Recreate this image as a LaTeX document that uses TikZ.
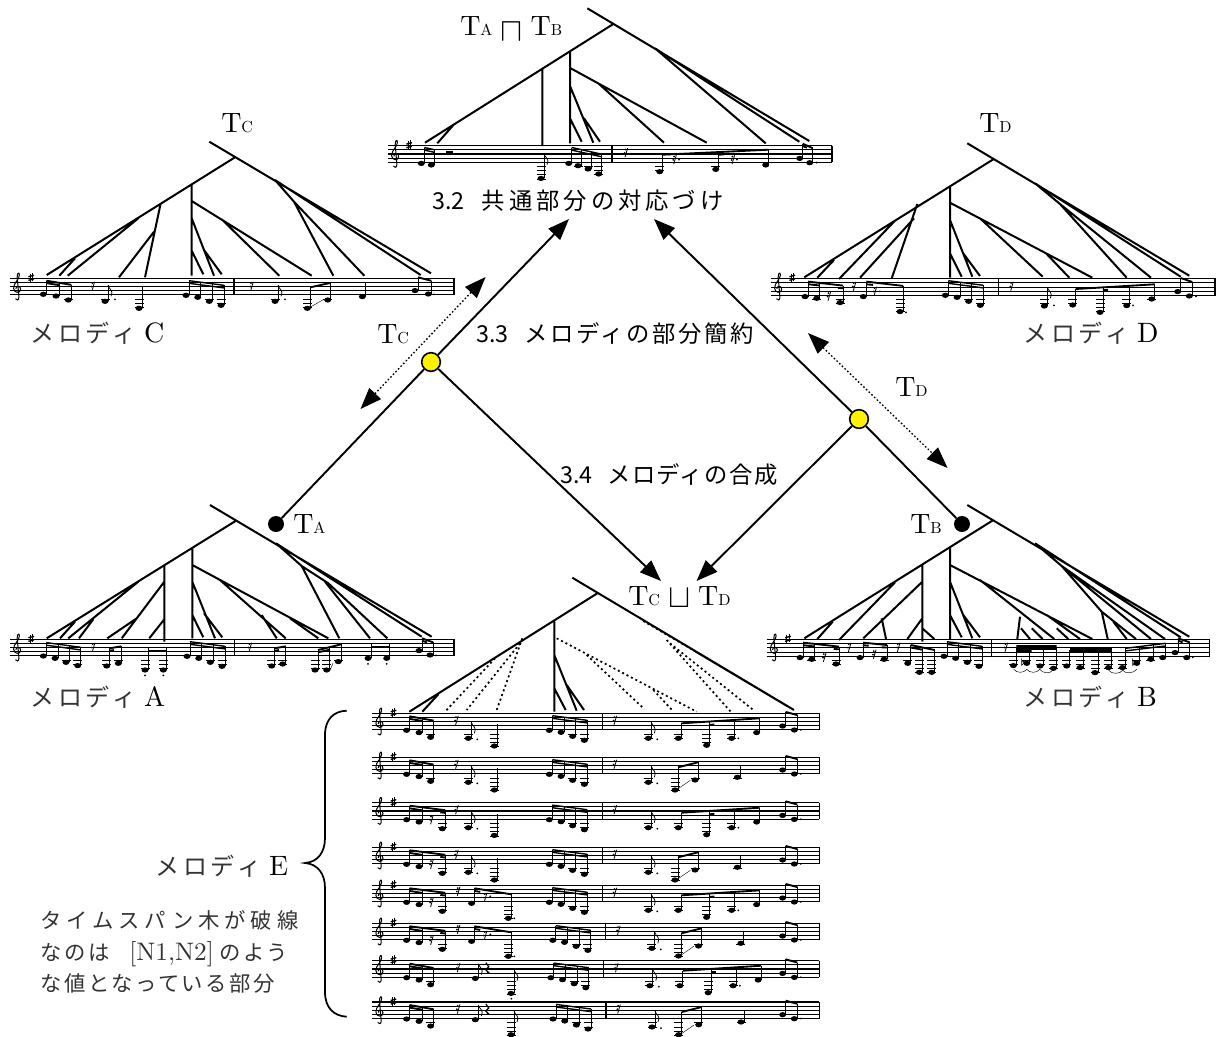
\documentclass[tikz,border=0pt]{standalone}
\usepackage{fontspec}
\usepackage{amssymb}
\usetikzlibrary{arrows.meta}
\newfontfamily\lmx[Ligatures=TeX]{lmroman10-regular.otf}
\newfontfamily\jpa[LetterSpace=23]{Noto Sans CJK JP}
\newfontfamily\jpb[LetterSpace=16]{Noto Sans CJK JP}
\newfontfamily\jpc[LetterSpace=17]{Noto Sans CJK JP}
\newfontfamily\jpd[LetterSpace=6]{Noto Sans CJK JP}
\newfontfamily\jpe[LetterSpace=12]{Noto Sans CJK JP}
\newfontfamily\jpg[LetterSpace=11]{Noto Sans CJK JP}
\newfontfamily\jpn{Noto Sans CJK JP}
\newcommand\tk[1]{{\lmx\fontsize{21}{21}\selectfont T\fontsize{12}{12}\selectfont #1}}
\newcommand\mel[1]{{\color{black!80}\jpb\fontsize{18}{18}\selectfont メロディ}\hspace{6pt}{\lmx\fontsize{21}{21}\selectfont #1}}
\newcommand\sect[3]{{\fontsize{17.5}{17.5}\selectfont\jpn #1\hspace{6pt}#2 #3}}
\tikzset{
 treeln/.style={line width=1.5pt},
 treedot/.style={line width=1.3pt,dash pattern=on 1.5pt off 2.2pt},
 stemln/.style={line width=.55pt},
 staffln/.style={line width=.85pt},
 ledgerln/.style={line width=.6pt},
 beamln/.style={line width=1.4pt},
 main/.style={line width=1.45pt,-{Triangle[length=16pt,width=12pt]}},
 plainl/.style={line width=1.45pt},
 spanarr/.style={line width=1pt,dash pattern=on 1.2pt off 1.6pt,{Triangle[length=16pt,width=12pt]}-{Triangle[length=16pt,width=12pt]}},
 yel/.style={circle,draw=black,line width=1.2pt,fill=yellow,minimum size=14pt,inner sep=0pt},
 blk/.style={circle,fill=black,minimum size=12pt,inner sep=0pt},
 lbl/.style={inner sep=0pt,anchor=west},
}
% music primitives (local px: y=0 top staff line)
\newcommand\mnote[3]{\fill (#1,#2) ellipse [x radius=3.5,y radius=2.6];\draw[stemln] (#1+3,#2) -- (#1+3,#3);%
 \ifdim#2pt>19.5pt \draw[ledgerln] (#1-4.5,20.75) -- (#1+4.5,20.75);\fi
 \ifdim#2pt>24pt \draw[ledgerln] (#1-4.5,24.9) -- (#1+4.5,24.9);\fi
 \ifdim#2pt>28pt \draw[ledgerln] (#1-4.5,29) -- (#1+4.5,29);\fi
 \ifdim#2pt>32pt \draw[ledgerln] (#1-4.5,33.2) -- (#1+4.5,33.2);\fi}
\newcommand\mbeam[4]{\draw[beamln] (#1,#2) -- (#3,#4);}
\newcommand\mbeamb[4]{\draw[line width=1.05pt] (#1,#2) -- (#3,#4);\draw[line width=1.05pt] (#1,#2+2.6) -- (#3,#4+2.6);}
\newcommand\mrest[2]{\draw[line width=.6pt] (#1+1.6,#2-4.5) -- (#1-1,#2+4.5);\fill (#1-.6,#2-3.2) circle [radius=1];\fill (#1-1.4,#2+.2) circle [radius=1];}
\newcommand\mrestq[2]{\draw[line width=.9pt] (#1-1.5,#2-6) -- (#1+1.5,#2-2) -- (#1-1.5,#2+1) -- (#1+1.5,#2+4) -- (#1-.5,#2+4);}
\newcommand\mflag[2]{\draw[line width=.55pt] (#1,#2) .. controls (#1+1,#2+4) and (#1+6,#2+5) .. (#1+3,#2+11);}
\newcommand\mdot[2]{\fill (#1,#2) circle [radius=1];}
\newcommand\mbar[1]{\draw[line width=.95pt] (#1,0) -- (#1,16.6);}
\newcommand\mslur[4]{\draw[line width=.35pt] (#1,#2) .. controls (#1+3,#2+4) and (#3-3,#4+4) .. (#3,#4);}
\newcommand\mflat[2]{\draw[line width=.4pt] (#1,#2-5) -- (#1,#2+2) .. controls (#1+4,#2-2) and (#1+2,#2-3) .. (#1,#2-1);}
\newcommand\mstaff[2]{%
 \foreach \i in {0,1,2,3,4}{\draw[staffln] (0,\i*#2) -- (#1,\i*#2);}
 \draw[line width=.95pt] (#1,0) -- (#1,#2*4);
 % clef
 \draw[line width=.75pt] (5.4,20.4) .. controls (6.4,22.6) and (9.2,22) .. (8.9,18.6) -- (7.2,-1) .. controls (7,-5) and (9.2,-7) .. (9.4,-3.4) .. controls (9.6,1) and (3.4,4.5) .. (3.6,10) .. controls (3.8,15) and (10.6,15.4) .. (10.7,10.8) .. controls (10.6,7) and (5.6,7.2) .. (5.9,10.6);
 % sharp
 \draw[line width=.45pt] (20,-4.6) -- (20,3.6) (22.4,-5.4) -- (22.4,2.8);
 \draw[line width=1pt] (18.4,-1.6) -- (24,-3) (18.4,2) -- (24,.6);}
\newcommand\mGroup[1]{\mnote{#1+177}{17}{2.4}\mnote{#1+188.7}{19}{3.8}\mnote{#1+200.3}{23}{5.6}\mnote{#1+212}{27}{7}\mbeamb{#1+180}{2.4}{#1+215}{7}}
\newcommand\mLast{\mnote{410.3}{12.7}{-1.4}\mnote{422}{16.7}{1.8}\mbeam{413.3}{-1.4}{425}{1.8}\mdot{428.5}{16.5}}
% melody E pieces
\newcommand\eHeadA{\mnote{34.3}{17}{3}\mnote{46.7}{19.3}{5.2}\mnote{58.3}{24}{7.3}\mbeam{37.3}{3}{61.3}{7.3}\mbeam{37.3}{5.6}{49.7}{7.6}}
\newcommand\eHeadB{\mnote{34.3}{17}{3}\mnote{46.7}{19.3}{5}\mrest{59.3}{17}\mnote{70}{26}{7.5}\mbeam{37.3}{3}{73}{7.5}\mbeam{37.3}{5.6}{49.7}{7.6}\mbeam{68}{9.6}{73}{10.2}}
\newcommand\ePartP{\mrest{84.3}{7}\mnote{96}{25}{9}\mflag{99}{9}\mdot{105}{26}\mnote{122}{32.7}{11}}
\newcommand\ePartQ{\mrest{86}{6}\mnote{99.3}{18}{3}\mbeam{102.3}{3}{139}{9}\mbeam{102.3}{5.6}{108}{6.6}\mrest{113}{12}\mdot{118}{11}\mnote{136}{33}{9}\mdot{142}{33}}
\newcommand\ePartR{\mrest{86}{7}\mnote{103}{17.7}{3}\mflag{106}{3}\mrestq{115}{8}\mnote{138.7}{32.7}{9}\mflag{141.7}{9}\mdot{139}{38}}
\newcommand\eTail[1]{\mbar{#1+230}\mrest{#1+242.7}{7}\mnote{#1+276}{25}{9}\mflag{#1+279}{9}\mdot{#1+285}{26}}
\newcommand\eEndX[1]{\mnote{#1+306}{25}{10}\mnote{#1+334.3}{32}{8.4}\mbeam{#1+337.3}{11.5}{#1+342}{11.3}\mnote{#1+359.3}{25}{6.8}\mdot{#1+366}{25}\mnote{#1+384.3}{19.3}{5}\mbeam{#1+309}{10}{#1+387.3}{5}}
\newcommand\eEndY[1]{\mnote{#1+302.7}{32.7}{10}\mnote{#1+322.7}{22.7}{5}\mbeam{#1+305.7}{10}{#1+325.7}{5}\draw[line width=.3pt] (#1+305,32) -- (#1+318,23);\mnote{#1+365}{20}{9}}
\newcommand\eRow[5]{\begin{scope}[shift={(372.3,#1)}]\mstaff{447}{4.15}#2#3\mGroup{#5}\eTail{#5}#4{#5}\mLast\end{scope}}
\begin{document}
\begin{tikzpicture}[x=.75pt,y=-.75pt]
\useasboundingbox (0,0) rectangle (1223,1036);
% ===== Top tree
\draw[treeln] (587.3,8.3) -- (809.3,141) (613.3,24) -- (425,142.7) (454,124.3) -- (437.3,143.3)
 (542.3,68.3) -- (542.3,146) (570,51.7) -- (570,143.3) (570.7,68.3) -- (706.7,142.7)
 (598.3,83.3) -- (664,142.7) (570,86) -- (593.3,142.7) (570,118.3) -- (581.7,141.7)
 (584,118.3) -- (600,141.7) (655,48.3) -- (765.7,143.3) (655,48.3) -- (799.3,141.7);
\begin{scope}[shift={(388,145.7)}]
 \mstaff{444}{4.15}
 \mnote{33.3}{17.7}{2}\mnote{43.3}{19.3}{4}\mbeamb{36.3}{1.8}{46.3}{4}
 \fill (58,5) rectangle (65,7.6);
 \mnote{153}{32.7}{8}\mflag{156}{8}
 \mnote{180.7}{17.7}{2}\mnote{190}{20}{4}\mnote{200}{23.3}{6.3}\mnote{210.7}{28.3}{8.5}\mbeamb{183.7}{1.8}{213.7}{8.5}
 \mbar{224}\mrest{238}{7}
 \mnote{271.7}{26}{9}\mnote{327.7}{23.7}{6.5}\mnote{377.7}{19.3}{4.2}\mbeam{274.7}{9}{380.7}{4}\mbeam{330.7}{9}{336}{8.7}
 \mrest{286.7}{14}\mdot{291}{14}\mrest{345}{14}\mdot{349}{14}
 \mnote{411.7}{12.7}{-2}\mnote{421.7}{17}{2.5}\mbeam{414.7}{-2}{424.7}{2.5}\mbeam{414.7}{.4}{419}{2}\mdot{428.5}{17}
\end{scope}
% ===== Melody C
\draw[treeln] (209.3,141.7) -- (431,273.3) (235,157.3) -- (46.7,275) (75,258.3) -- (59.3,275.7)
 (138.3,218.3) -- (67.7,275.7) (160.7,203.3) -- (145,277.3) (154,231.7) -- (119,277.3)
 (191.7,185) -- (191.7,275.7) (191.7,201) -- (311.7,275.7) (191.7,218.3) -- (214,275.7)
 (191.7,250.7) -- (203.3,274.3) (204,250) -- (221.7,274.3) (221.7,219.3) -- (279.3,275.7)
 (275,180) -- (420.7,275) (275,180) -- (294,201.7) (294,201.7) -- (333.3,275.7) (294,201.7) -- (364.3,275.7);
\begin{scope}[shift={(10,278.3)}]
 \mstaff{444}{4.05}
 \mnote{33.3}{16}{2.4}\mnote{46}{17.7}{4}\mnote{58.3}{21.7}{6.5}\mbeam{36.3}{2.4}{61.3}{6.5}\mbeam{36.3}{4.8}{49}{6.8}
 \mrest{83}{8}\mnote{95}{23}{7}\mflag{98}{7}\mdot{105}{21}\mnote{129}{30}{8}
 \mGroup{-1}
 \mbar{224}\mrest{241.7}{8}\mnote{265}{23}{7}\mflag{268}{7}\mdot{275}{21}
 \mnote{297.3}{30}{9}\mnote{317.7}{21.7}{4.5}\mbeam{300.3}{9}{320.7}{4.5}\draw[line width=.3pt] (300,29) -- (313,21.5);
 \mnote{352.3}{18.3}{4.5}
 \mnote{405}{12.3}{-1}\mnote{418.3}{15.7}{2.5}\mbeam{408}{-1}{421.3}{2.5}\mdot{424}{16}
\end{scope}
% ===== Melody D
\draw[treeln] (967.3,143.3) -- (1189.3,275.7) (993.3,159.3) -- (804.3,277.3) (834,260) -- (817.3,277.7)
 (917.3,204) -- (891.7,278.3) (895,220.7) -- (839,279) (914,218.3) -- (860,277.7)
 (950,186.7) -- (950,277.7) (950,202.7) -- (1092.3,277.7) (950,220) -- (972.3,276.7)
 (950,253.3) -- (961.7,276.7) (962.7,252.7) -- (980,276) (980,218.3) -- (1042.7,276.7)
 (1046.7,254) -- (1069.3,277.7) (1035,183.3) -- (1180.7,276.7) (1035,183.3) -- (1060,204) (1060,204) -- (1126.7,277.7) (1060,204) -- (1151,277.7);
\begin{scope}[shift={(771,278.3)}]
 \mstaff{444}{4.4}
 \mnote{34}{18.3}{3.3}\mnote{45.7}{20}{4.6}\mrest{58}{18}\mnote{69}{24.3}{7.3}\mbeam{37}{3.3}{72}{7.3}\mbeam{37}{5.9}{48.7}{7.2}\mbeam{67}{9.6}{72}{10}
 \mrest{83.3}{8}\mnote{92.3}{18.3}{3.3}\mnote{129}{33.3}{7.6}\mbeam{95.3}{3.3}{132}{7.6}\mbeam{95.3}{6}{102}{6.6}\mrest{104}{13}\mdot{109}{13}\mdot{135}{34}
 \mGroup{-2.7}
 \mbar{227.3}\mrest{240.7}{8}\mnote{273.3}{27.7}{9}\mflag{276.3}{9}\mdot{283}{27}
 \mnote{301.7}{26.7}{10.7}\mnote{329}{34}{9.2}\mbeam{332}{11.8}{337}{11.6}\mnote{355.7}{27.3}{7.8}\mdot{362}{27}\mnote{380.7}{20.7}{6}\mbeam{304.7}{10.7}{383.7}{6}
 \mnote{406.7}{13.3}{-.3}\mnote{418.3}{17.7}{3.7}\mbeam{409.7}{-.3}{421.3}{3.7}\mdot{425}{18}
\end{scope}
% ===== Melody A
\draw[treeln] (210,505) -- (431.7,636.7) (236,520.7) -- (46.7,638.3) (75,621.7) -- (60,638.3)
 (138.3,581.7) -- (68.3,638.3) (93.3,619.3) -- (79,638.3) (164.3,565) -- (164.3,641.7)
 (164.3,581.7) -- (121.7,638.3) (136.7,618.3) -- (107.3,638.3) (164.3,619.3) -- (149.3,638.3)
 (192.3,548.3) -- (192.3,638.3) (192.3,565) -- (328.3,638.3) (192.3,581.7) -- (215,638.3)
 (192.3,615) -- (203.3,637.3) (204,613.3) -- (222.3,637.3) (220,580) -- (285.7,638.3)
 (261.7,615) -- (276.7,638.3) (290,618.3) -- (318.3,638.3) (276,543.3) -- (421.7,636.7)
 (276,543.3) -- (301.7,566) (301.7,566) -- (339.3,638.3) (301.7,566) -- (328.3,583.3) (325,581.7) -- (370,638.3) (328.3,583.3) -- (387.3,638.3);
\begin{scope}[shift={(10,639.3)}]
 \mstaff{444}{4.15}
 \mnote{33.3}{16.7}{3.3}\mnote{45}{19}{4.8}\mnote{56}{23}{6.5}\mnote{67.7}{26.3}{8}\mbeamb{36.3}{3.3}{70.7}{8}
 \mrest{83.3}{8}
 \mnote{96.7}{26.7}{9}\mnote{108.3}{24}{7}\mbeam{99.7}{9}{111.3}{7}\mbeam{99.7}{11.4}{104}{10.8}
 \mnote{135}{30.7}{9}\mnote{153.3}{30.7}{9}\mbeamb{138}{8.4}{156.3}{8.4}\mdot{135}{36}\mdot{153.3}{36}
 \mGroup{0}
 \mbar{224.3}\mrest{240}{8}
 \mnote{261.7}{26.7}{9}\mnote{272.7}{24.7}{7}\mbeam{264.7}{9}{275.7}{7}\mbeam{264.7}{11.4}{269}{10.8}
 \mnote{305}{30.7}{10.7}\mnote{316.7}{30.7}{8}\mnote{328.3}{22.3}{5}\mbeam{308}{10.7}{331.3}{5}\mbeam{308}{13}{320}{10.4}
 \draw[line width=.3pt] (320,31) -- (323,24);
 \mnote{358}{19}{5}\mnote{376.7}{19}{5}\mbeamb{361}{4.4}{379.7}{4.4}\mdot{358}{24.5}\mdot{376.7}{24.5}
 \mnote{409}{11.3}{-1}\mnote{420}{15.7}{3}\mbeam{412}{-1}{423}{3}\mbeam{412}{1.4}{417}{3}\mdot{426}{16}
\end{scope}
% ===== Melody B
\draw[treeln] (967.3,505) -- (1189.3,636.7) (992.3,520.7) -- (804.3,638.3) (832.7,621.7) -- (817.3,639)
 (895,582.3) -- (839,640) (922.3,581.7) -- (863.3,638.3) (881.7,618.3) -- (886,639)
 (922.3,565) -- (922.3,641.7) (922.3,618.3) -- (907.3,639) (922.3,628.3) -- (934.3,639)
 (950,548.3) -- (950,639) (950,565) -- (1092.3,639) (950,581.7) -- (972.3,638.3)
 (950,615) -- (961.7,637.3) (963.3,615) -- (980,637.3) (980,580) -- (1054.3,639)
 (1020,616.7) -- (1017.3,639) (1021,628.3) -- (1030,639) (1031.7,628.3) -- (1042.7,639)
 (1046.7,615) -- (1080,639) (1056.7,628.3) -- (1068.3,639) (1035,543.3) -- (1180.7,637.3)
 (1035,543.3) -- (1061.7,566) (1061.7,566) -- (1165,639) (1061.7,566) -- (1101.7,611.7) (1101.7,611.7) -- (1107.7,639) (1101.7,611.7) -- (1136,639)
 (1113.3,621.7) -- (1126.7,639) (1061.7,566) -- (1151,639);
\begin{scope}[shift={(766.7,639.3)}]
 \mstaff{443}{4.3}
 \mnote{33.3}{18.3}{3.3}\mnote{45}{20}{4.6}\mrest{57.7}{18}\mnote{69.3}{24.7}{7.3}\mbeam{36.3}{3.3}{72.3}{7.3}\mbeam{36.3}{5.9}{48}{7.2}\mbeam{67}{9.6}{72.3}{10}
 \mrest{82.7}{8}\mnote{93.3}{18.3}{3.3}\mrest{107.7}{15}\mnote{117.3}{20}{5.7}\mbeam{96.3}{3.3}{120.3}{5.7}\mbeam{96.3}{5.9}{102}{6.4}\mbeam{115}{8}{120.3}{8.2}
 \mrest{131.7}{8}\mnote{141}{24}{5.7}\mnote{152.7}{33}{7.7}\mnote{165}{33}{10.7}\mbeam{144}{5.7}{168}{10.7}\mbeam{144}{8.2}{155.7}{10.4}
 \mGroup{.2}
 \mbar{225}\mrest{239.3}{8}
 \fill (249.7,5.7) rectangle (290,10.5) (249.7,10.5) rectangle (265,13);
 \mnote{246.7}{26.3}{8}\mnote{260}{24}{8}\mnote{273.3}{26.7}{8}\mnote{286.7}{29}{8}\mflat{255}{24}
 \fill (303,9) rectangle (345,14);
 \mnote{300}{26.7}{11}\mnote{313.3}{28.3}{11}\mnote{328.3}{33.3}{11}\mnote{341.7}{28.3}{11}
 \mnote{355.7}{28.3}{9}\mnote{370}{24}{7.5}\mnote{384}{20}{5.7}\mnote{396}{18.3}{4}\mbeamb{358.7}{9}{399}{4}\mflat{366}{24}
 \mslur{247}{30}{260}{30}\mslur{260}{30}{273}{30}\mslur{273}{30}{286}{31}\mslur{342}{31}{356}{31}\mslur{356}{31}{370}{30}
 \mnote{408.3}{13.3}{-1}\mnote{420}{18.3}{3}\mbeam{411.3}{-1}{423}{3}\mbeam{411.3}{1.4}{416}{3}\mdot{426}{18}
\end{scope}
% ===== Melody E tree
\draw[treeln] (572.3,577.7) -- (794,710) (597.3,593.3) -- (409.3,711.7) (438.3,694.3) -- (422.3,711.7)
 (554.3,621.7) -- (554.3,711.7) (554.3,655) -- (576.7,710.7) (554.3,688.3) -- (565.7,710)
 (566.7,685) -- (584,710) (693,650) -- (788.3,706.7);
\draw[treedot] (522.3,638.3) -- (496.7,710) (495,658.3) -- (446,710.7) (520,643.3) -- (466.7,710)
 (556.7,638.3) -- (696.7,711.7) (586.7,655) -- (644.3,709) (653.3,690) -- (672.7,710.7)
 (643.3,621) -- (693,650) (670,643.3) -- (753.3,710) (666.7,640) -- (730.7,711.7);
\eRow{713.3}{\eHeadA}{\ePartP}{\eEndX}{0}
\eRow{757.3}{\eHeadA}{\ePartP}{\eEndY}{0}
\eRow{802.7}{\eHeadB}{\ePartP}{\eEndX}{0}
\eRow{847.3}{\eHeadB}{\ePartP}{\eEndY}{0}
\eRow{885.3}{\eHeadB}{\ePartQ}{\eEndX}{0}
\eRow{923.3}{\eHeadB}{\ePartQ}{\eEndY}{3.5}
\eRow{960.7}{\eHeadA}{\ePartR}{\eEndX}{1.5}
\eRow{1002}{\eHeadA}{\ePartR}{\eEndY}{3.7}
% ===== Brace
\draw[line width=1.3pt] (346.7,710.7) .. controls (334,711) and (325,719) .. (325,735) -- (325,838) .. controls (325,852) and (318,862) .. (305,863) .. controls (318,864) and (325,874) .. (325,888) -- (325,992) .. controls (325,1008) and (334,1016) .. (346.7,1016.7);
% ===== Text labels
\node[lbl] (tab) at (460,29) {\tk{A}\hspace{6pt}$\vcenter{\hbox{\fontsize{24}{24}\selectfont$\sqcap$}}$\hspace{6pt}\tk{B}};
\node[lbl] (s32) at (432,201) {\sect{3.2}{\jpc}{共通部分の対応づけ}};
\node[lbl] (s33) at (476,334) {\sect{3.3}{\jpg}{メロディの部分簡約}};
\node[lbl] (s34) at (560,475) {\sect{3.4}{\jpd}{メロディの合成}};
\node[lbl] (ttc) at (221,123) {\tk{C}};
\node[lbl] (ttd) at (979,123) {\tk{D}};
\node[lbl] (tc2) at (377,334) {\tk{C}};
\node[lbl] (td2) at (895,387) {\tk{D}};
\node[lbl] (ta) at (293,524) {\tk{A}};
\node[lbl] (tb) at (910,524) {\tk{B}};
\node[lbl] (tcd) at (628,597) {\tk{C}\hspace{6pt}\raisebox{3pt}{$\vcenter{\hbox{\fontsize{24}{24}\selectfont$\sqcup$}}$}\hspace{6pt}\tk{D}};
\node[lbl] (ma) at (30,697) {\mel{A}};
\node[lbl] (mb) at (1023,697) {\mel{B}};
\node[lbl] (mc) at (30,333) {\mel{C}};
\node[lbl] (md) at (1023,333) {\mel{D}};
\node[lbl] (me) at (155,866) {\mel{E}};
\node[lbl,align=left,text=black!80,font=\fontsize{16}{23.6}\selectfont] (note) at (40,952) {\jpa タイムスパン木が破線\\\jpe なのは\hspace{15pt}{\fontsize{19}{19}\selectfont\lmx [N1,N2]}\hspace{4pt}のよう\\\jpe な値となっている部分};
% ===== Process graph
\node[blk] (da) at (276,524) {};
\node[blk] (db) at (962,524) {};
\node[yel] (y1) at (431,362) {};
\node[yel] (y2) at (859,419) {};
\coordinate (tip32a) at (569,219);
\coordinate (tip32b) at (654,219);
\coordinate (tipea) at (661,581);
\coordinate (tipeb) at (696.5,581);
\coordinate (sc1) at (485.6,277);
\coordinate (sc2) at (360.5,409);
\coordinate (sd1) at (808,333);
\coordinate (sd2) at (947.6,468);
\draw[plainl] (da) -- (y1);
\draw[plainl] (db) -- (y2);
\draw[main] (y1) -- (tip32a);
\draw[main] (y2) -- (tip32b);
\draw[main] (y1) -- (tipea);
\draw[main] (y2) -- (tipeb);
\draw[spanarr] (sc2) -- (sc1);
\draw[spanarr] (sd1) -- (sd2);
\end{tikzpicture}
\end{document}
